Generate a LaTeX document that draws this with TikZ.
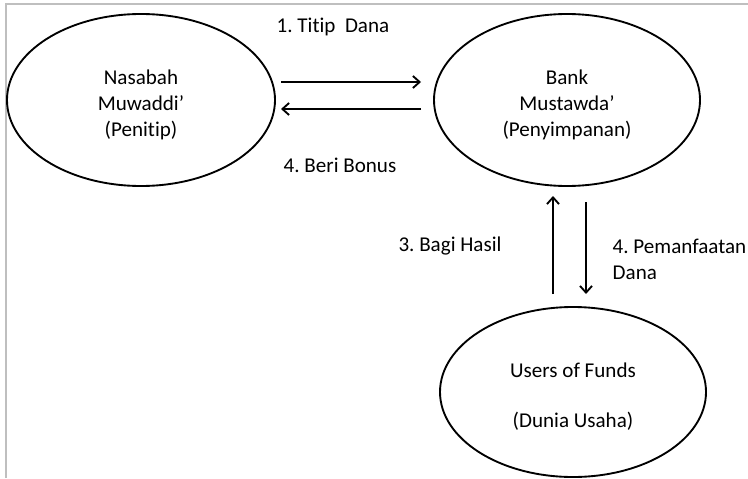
\documentclass[tikz,border=0pt]{standalone}
\usepackage{fontspec}
\setmainfont{Carlito}[Ligatures=NoCommon]
\frenchspacing
\usetikzlibrary{shapes.geometric,arrows.meta}
\begin{document}
\begin{tikzpicture}[x=0.75pt,y=-0.75pt,
  lbl/.style={font=\fontsize{15.8}{19.5}\selectfont},
  flow/.style={line width=1.4pt,-{Straight Barb[length=5pt,width=9pt,line width=1.4pt]}},
  frameline/.style={draw=black!25,line width=1pt}]
\useasboundingbox (0,0) rectangle (748,478);
\coordinate (fa) at (6,478);
\coordinate (fb) at (6,4);
\coordinate (fc) at (748,4);
\draw[frameline] (fa) -- (fb) -- (fc);
\draw[line width=1.4pt] (141,100) ellipse [x radius=134, y radius=86];
\node[lbl,align=center] (nas) at (141,105) {Nasabah\\Muwaddi’\\(Penitip)};
\draw[line width=1.4pt] (567,100) ellipse [x radius=133, y radius=86];
\node[lbl,align=center] (bank) at (567,105) {Bank\\Mustawda’\\(Penyimpanan)};
\draw[line width=1.4pt] (573,392) ellipse [x radius=133, y radius=85];
\node[lbl] (users) at (573,370) {Users of Funds};
\node[lbl] (dunia) at (573,421) {(Dunia Usaha)};
\coordinate (a1s) at (281,82);
\coordinate (a1e) at (421,82);
\coordinate (a2s) at (421,109);
\coordinate (a2e) at (281,109);
\draw[flow] (a1s) -- (a1e);
\draw[flow] (a2s) -- (a2e);
\coordinate (a3s) at (553,294);
\coordinate (a3e) at (553,196);
\coordinate (a4s) at (586,202);
\coordinate (a4e) at (586,294);
\draw[flow] (a3s) -- (a3e);
\draw[flow] (a4s) -- (a4e);
\node[lbl] (t1) at (333,27) {1. Titip\ \ Dana};
\node[lbl] (t2) at (340,165) {4. Beri Bonus};
\node[lbl] (t3) at (450,246) {3. Bagi Hasil};
\node[lbl,align=left,anchor=west] (t4) at (608,259) {4. Pemanfaatan\\Dana};
\end{tikzpicture}
\end{document}
